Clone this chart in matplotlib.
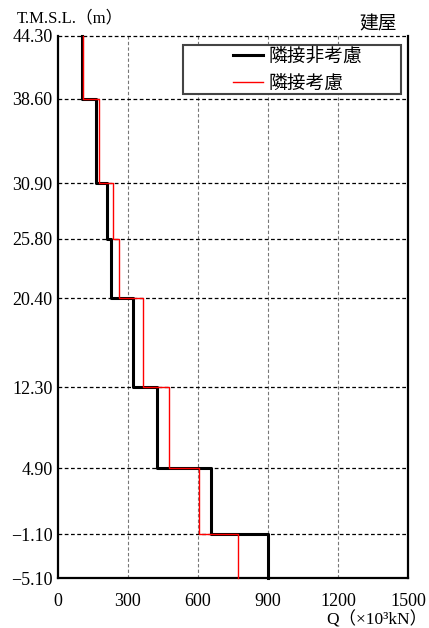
import matplotlib
matplotlib.use("Agg")
import matplotlib.pyplot as plt
from matplotlib.patches import Rectangle

plt.rcParams['font.family'] = ['Liberation Serif', 'Noto Sans CJK JP', 'DejaVu Sans']

# level boundaries (T.M.S.L., m), top to bottom
levels = [44.30, 38.60, 30.90, 25.80, 20.40, 12.30, 4.90, -1.10, -5.10]
level_labels = ['44.30', '38.60', '30.90', '25.80', '20.40', '12.30', '4.90', '−1.10', '−5.10']

# shear force per story (x10^3 kN)
q_no_adj = [103, 165, 208, 227, 320, 426, 657, 898]
q_adj = [108, 176, 237, 263, 366, 477, 605, 770]

x_ticks = [0, 300, 600, 900, 1200, 1500]


def step_xy(vals, lv):
    xs, ys = [], []
    for i, v in enumerate(vals):
        xs += [v, v]
        ys += [lv[i], lv[i + 1]]
    return xs, ys


fig = plt.figure(figsize=(4.29, 6.28), dpi=100)
ax = fig.add_axes([0.1352, 0.0796, 0.8158, 0.8631])

ax.set_xlim(0, 1500)
ax.set_ylim(levels[-1], levels[0])

for x in x_ticks[1:-1]:
    ax.axvline(x, color='#777777', lw=0.8, ls=(0, (3, 2)), zorder=1)
for y in levels[:-1]:
    ax.axhline(y, color='black', lw=0.9, ls=(0, (3, 2)), zorder=1, clip_on=False)

xs, ys = step_xy(q_no_adj, levels)
ax.plot(xs, ys, color='black', lw=2.2, label='隣接非考慮', zorder=3, clip_on=False)
xs, ys = step_xy(q_adj, levels)
ax.plot(xs, ys, color='red', lw=1.0, label='隣接考慮', zorder=4, clip_on=False)

ax.set_xticks(x_ticks)
ax.set_xticklabels([str(t) for t in x_ticks], fontsize=13)
ax.set_yticks(levels)
ax.set_yticklabels(level_labels, fontsize=13)
ax.tick_params(axis='y', length=0, pad=4)
ax.tick_params(axis='x', length=0, pad=11)

ax.spines['top'].set_visible(False)
for s in ['left', 'right', 'bottom']:
    ax.spines[s].set_linewidth(1.6)

# legend frame drawn separately (wide box, entries sit right of centre)
ax.add_patch(Rectangle((0.357, 0.893), 0.623, 0.09, transform=ax.transAxes,
                       facecolor='white', edgecolor='#444444', lw=1.5, zorder=5))
leg = ax.legend(loc='center left', bbox_to_anchor=(0.472, 0.938), frameon=False,
                borderpad=0, handlelength=1.6, handletextpad=0.3, labelspacing=0.3,
                prop={'family': ['Noto Sans CJK JP'], 'size': 13.5})
leg.set_zorder(6)

fig.text(0.04, 0.971, 'T.M.S.L.（m）', fontsize=12, ha='left', va='center',
         family=['Liberation Serif', 'Noto Sans CJK JP'])
fig.text(0.926, 0.962, '建屋', fontsize=13.5, ha='right', va='center',
         family=['Noto Sans CJK JP'])
fig.text(0.996, 0.013, 'Q（×10³kN）', fontsize=12.5, ha='right', va='center',
         family=['Liberation Serif', 'Noto Sans CJK JP'])

fig.savefig('out.png', dpi=100)
